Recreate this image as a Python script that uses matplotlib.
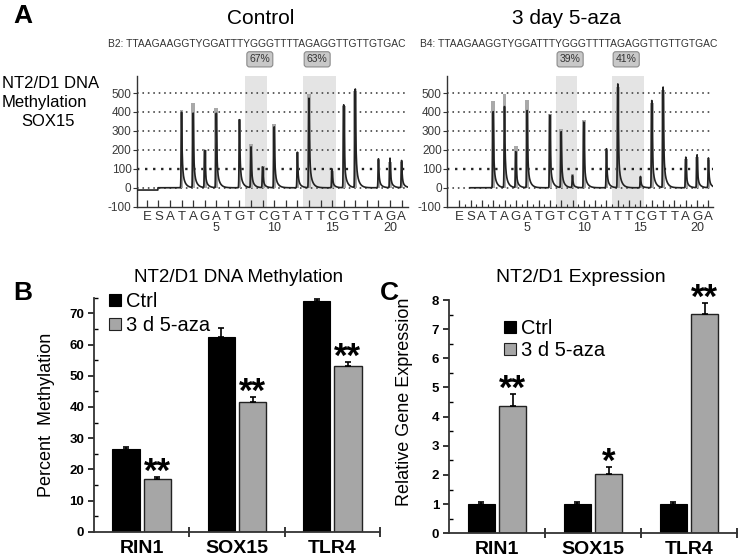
import numpy as np
import matplotlib
matplotlib.use("Agg")
import matplotlib.pyplot as plt
from matplotlib import font_manager
from matplotlib.patches import Patch
from matplotlib.transforms import blended_transform_factory

# ---------------- data ----------------
dispensation = list("ESATAGATGTCGTATTCGTTAGA")      # dispensation order, positions -1..21
disp_pos = list(range(-1, 22))
number_ticks = [5, 10, 15, 20]
pyro_yticks = [-100, 0, 100, 200, 300, 400, 500]
peak_pos = [2, 3, 4, 5, 7, 8, 9, 10, 12, 13, 15, 16, 17, 19, 20, 21]
ctrl_peaks = [400, 393, 198, 393, 361, 215, 110, 322, 189, 473, 100, 438, 521, 153, 157, 144]
ctrl_hist = [410, 447, 201, 422, 361, 233, 117, 335, 190, 495, 90, 429, 509, 144, 135, 135]
aza_peaks = [402, 429, 190, 410, 383, 295, 64, 349, 206, 548, 60, 464, 530, 162, 174, 158]
aza_hist = [459, 495, 222, 461, 390, 308, 73, 360, 197, 530, 55, 450, 518, 153, 165, 149]
cpg_regions = [(7.5, 9.4), (12.45, 15.3)]
ctrl_pct = ["67%", "63%"]
aza_pct = ["39%", "41%"]
ctrl_seq = "B2: TTAAGAAGGTYGGATTTYGGGTTTTAGAGGTTGTTGTGAC"
aza_seq = "B4: TTAAGAAGGTYGGATTTYGGGTTTTAGAGGTTGTTGTGAC"

genes = ["RIN1", "SOX15", "TLR4"]
legend_labels = ["Ctrl", "3 d 5-aza"]
meth_ctrl = [26.4, 62.3, 73.9]
meth_ctrl_err = [0.7, 2.9, 0.7]
meth_aza = [17.0, 41.6, 53.1]
meth_aza_err = [0.4, 1.6, 1.2]
meth_sig = ["**", "**", "**"]
expr_ctrl = [1.0, 1.0, 1.0]
expr_ctrl_err = [0.08, 0.09, 0.06]
expr_aza = [4.37, 2.02, 7.51]
expr_aza_err = [0.41, 0.24, 0.39]
expr_sig = ["**", "*", "**"]

# ---------------- setup ----------------
W, H, DPI = 742, 557, 100
available = {f.name for f in font_manager.fontManager.ttflist}
plt.rcParams["font.family"] = ["Liberation Sans", "DejaVu Sans"]
narrow = "Liberation Sans Narrow" if "Liberation Sans Narrow" in available else None

fig = plt.figure(figsize=(W / DPI, H / DPI), dpi=DPI)


def rect(x0, x1, y0, y1):
    return [x0 / W, 1 - y1 / H, (x1 - x0) / W, (y1 - y0) / H]


def ftext(x, y, s, **kw):
    return fig.text(x / W, 1 - y / H, s, **kw)


GRAY = "#a6a6a6"
DARK = "#222222"

# ---------------- panel A ----------------
def pyrogram(axr, xlim, peaks, hist, pcts, seq, seq_x, pre_offset, minor_half):
    ax = fig.add_axes(axr)
    ax.set_xlim(*xlim)
    ax.set_ylim(-100, 590)
    for a, b in cpg_regions:
        ax.axvspan(a, b, color="#e4e4e4", lw=0, zorder=0)
    for yv in pyro_yticks[1:]:
        ax.axhline(yv, ls=(0, (1, 2.4)), color="#222222" if yv == 100 else "#3a3a3a",
                   lw=1.7 if yv == 100 else 1.15, zorder=1)
    ax.bar(peak_pos, hist, width=0.32, color="#a9a9a9", lw=0, zorder=2)
    xs = np.linspace(xlim[0], xlim[1], 5000)
    ys = np.zeros_like(xs)
    for p, h in zip(peak_pos, peaks):
        d = xs - p
        rise = np.exp(-(d / 0.045) ** 2)
        dp = np.clip(d, 0, None)
        fall = 0.72 * np.exp(-dp / 0.05) + 0.28 * np.exp(-dp / 0.22)
        ys += h * np.where(d < 0, rise, fall)
    if pre_offset is None:
        ys = np.where(xs < -0.05, np.nan, ys)
    else:
        ys = np.where(xs < -0.05, pre_offset, ys)
    ax.plot(xs, ys, color=DARK, lw=1.2, zorder=3)
    for s in ["top", "right"]:
        ax.spines[s].set_visible(False)
    for s in ["left", "bottom"]:
        ax.spines[s].set_color("#333333")
        ax.spines[s].set_linewidth(1.0)
    ax.set_yticks(pyro_yticks)
    ax.set_yticklabels([str(v) for v in pyro_yticks], fontsize=8.5, color="#3a3a3a")
    ax.tick_params(axis="y", length=3, width=0.8, pad=1, color="#333333")
    ax.set_xticks(disp_pos)
    ax.set_xticklabels([""] * len(disp_pos))
    ax.tick_params(axis="x", direction="in", length=5, width=0.9, color="#333333")
    if minor_half:
        ax.set_xticks([p + 0.5 for p in disp_pos[:-1]], minor=True)
        ax.tick_params(axis="x", which="minor", direction="in", length=2.5, width=0.8, color="#333333")
    tr = blended_transform_factory(ax.transData, ax.transAxes)
    for p, L in zip(disp_pos, dispensation):
        ax.text(p, -0.075, L, transform=tr, ha="center", va="center", fontsize=9.5, color="#333333")
    for n in number_ticks:
        ax.text(n, -0.165, str(n), transform=tr, ha="center", va="center", fontsize=9, color="#333333")
    fam = [narrow, "Liberation Sans"] if narrow else ["Liberation Sans"]
    for (a, b), t in zip(cpg_regions, pcts):
        ax.annotate(t, xy=(a, 1.0), xycoords=tr, xytext=(3, 12), textcoords="offset points",
                    ha="left", va="center", fontsize=7.5, color="#333333", family=fam,
                    bbox=dict(boxstyle="round,pad=0.25", fc="#c8c8c8", ec="#8a8a8a", lw=0.8),
                    annotation_clip=False)
    ftext(seq_x, 44, seq, ha="left", va="center", fontsize=8.6 if narrow else 7.4,
          color="#333333", family=fam)
    return ax


pyrogram(rect(137, 408, 76, 206.7), (-1.85, 21.55), ctrl_peaks, ctrl_hist, ctrl_pct,
         ctrl_seq, 108, -12, False)
pyrogram(rect(447.3, 713, 76, 206.7), (-2.05, 21.4), aza_peaks, aza_hist, aza_pct,
         aza_seq, 420, None, True)

ftext(261, 19, "Control", ha="center", va="center", fontsize=15)
ftext(566, 18, "3 day 5-aza", ha="center", va="center", fontsize=15)
ftext(51, 84, "NT2/D1 DNA", ha="center", va="center", fontsize=12)
ftext(44, 103, "Methylation", ha="center", va="center", fontsize=12)
ftext(48, 122, "SOX15", ha="center", va="center", fontsize=12)
ftext(23, 16, "A", ha="center", va="center", fontsize=19, fontweight="bold")
ftext(23, 293, "B", ha="center", va="center", fontsize=19, fontweight="bold")
ftext(389, 293, "C", ha="center", va="center", fontsize=19, fontweight="bold")


# ---------------- panels B & C ----------------
def barpanel(axr, ctrl, ctrl_err, aza, aza_err, sig, ylim, major, minor, ylabel, ylab_y,
             legend_xy, labelspacing):
    ax = fig.add_axes(axr)
    x = np.arange(len(genes))
    off, wdt = 0.163, 0.287
    ax.bar(x - off, ctrl, wdt, color="black", edgecolor="black", lw=0.8, zorder=2,
           yerr=[np.zeros(len(ctrl)), ctrl_err], error_kw=dict(ecolor="black", elinewidth=1.2, capsize=2, capthick=1.2))
    ax.bar(x + off, aza, wdt, color=GRAY, edgecolor="#222222", lw=1.0, zorder=2,
           yerr=[np.zeros(len(aza)), aza_err], error_kw=dict(ecolor="black", elinewidth=1.2, capsize=2, capthick=1.2))
    for xi, v, e, s in zip(x, aza, aza_err, sig):
        ax.annotate(s, xy=(xi + off, v + e), xytext=(0, -3.5), textcoords="offset points",
                    ha="center", va="baseline", fontsize=25, fontweight="bold")
    ax.set_xlim(-0.5, len(genes) - 0.5)
    ax.set_ylim(*ylim)
    for s in ["top", "right"]:
        ax.spines[s].set_visible(False)
    for s in ["left", "bottom"]:
        ax.spines[s].set_color("#333333")
        ax.spines[s].set_linewidth(1.3)
    ax.set_yticks(major)
    ax.set_yticklabels([str(v) for v in major], fontsize=9.5, fontweight="bold")
    ax.set_yticks(minor, minor=True)
    ax.tick_params(axis="y", which="major", direction="out", length=4, width=1.1, pad=3)
    ax.tick_params(axis="y", which="minor", direction="in", length=3, width=1.0)
    ax.set_xticks([0.5, 1.5, 2.5])
    ax.set_xticklabels([])
    ax.tick_params(axis="x", which="major", direction="inout", length=7, width=1.1)
    tr = blended_transform_factory(ax.transData, ax.transAxes)
    for xi, g in zip(x, genes):
        ax.text(xi, -0.07, g, transform=tr, ha="center", va="center", fontsize=14, fontweight="bold")
    ax.set_ylabel(ylabel, fontsize=13)
    ax.yaxis.set_label_coords(ylab_y[0], ylab_y[1])
    handles = [Patch(fc="black", ec="black", lw=0.8), Patch(fc=GRAY, ec="#222222", lw=0.8)]
    fig.legend(handles, legend_labels, loc="upper left",
               bbox_to_anchor=(legend_xy[0] / W, 1 - legend_xy[1] / H),
               frameon=False, fontsize=14.5, handlelength=0.6, handleheight=0.6,
               handletextpad=0.25, labelspacing=labelspacing, borderpad=0, borderaxespad=0)
    return ax


barpanel(rect(94, 380, 297.7, 531.7), meth_ctrl, meth_ctrl_err, meth_aza, meth_aza_err, meth_sig,
         (0, 75), list(range(0, 71, 10)), list(range(5, 76, 10)), "Percent  Methylation",
         (-0.136, 0.5), (109, 292), 0.25)
barpanel(rect(449, 737, 300, 533.3), expr_ctrl, expr_ctrl_err, expr_aza, expr_aza_err, expr_sig,
         (0, 8), list(range(0, 9)), [v + 0.5 for v in range(0, 8)], "Relative Gene Expression",
         (-0.125, 0.565), (504, 319), 0.15)

ftext(238.5, 278, "NT2/D1 DNA Methylation", ha="center", va="center", fontsize=13.5)
ftext(581, 278, "NT2/D1 Expression", ha="center", va="center", fontsize=14)

fig.savefig("out.png", dpi=DPI)
